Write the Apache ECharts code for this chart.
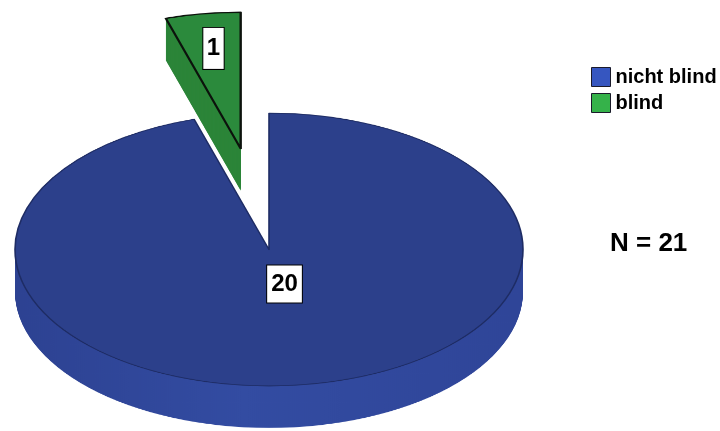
<!DOCTYPE html>
<html>
<head>
<meta charset="utf-8">
<script src="https://cdn.jsdelivr.net/npm/echarts@6/dist/echarts.min.js"></script>
<style>
  html, body { margin: 0; padding: 0; background: #fff; }
  #stage { position: relative; width: 720px; height: 431px; overflow: hidden; background: #fff; }
  #body3d { position: absolute; left: 0; top: 0; width: 720px; transform-origin: 0 0; }
  #overlay { position: absolute; left: 0; top: 0; width: 720px; height: 431px; }
</style>
</head>
<body>
<div id="stage">
  <div id="body3d"></div>
  <div id="overlay"></div>
</div>
<script>
// Groups and counts
const categories = ['nicht blind', 'blind'];
const counts = [20, 1];
const explodedIndex = 1;

// Colours: top faces, side walls, legend swatches
const topColors = ['#2c408b', '#2b8a3c'];
const topBorders = ['#1e2c64', '#0c120c'];
const sideColorsBlue = ['#2d4292', '#334ca2', '#2f4598'];
const sideColorGreen = '#2c8539';
const legendColors = ['#3656c0', '#35b24a'];

const FONT = '"Liberation Sans", Arial, sans-serif';

// Disc geometry (screen pixels); the disc is a round pie squashed vertically
const SQUASH = 0.537;          // minor / major axis
const CX = 269, CY_SCREEN = 249.5, R = 254;
const DEPTH_SCREEN = 42;       // wall height
const EXPLODE = 190;           // slice pull-out, along the flat pie

const CY = CY_SCREEN / SQUASH;
const DEPTH = DEPTH_SCREEN / SQUASH;
const bodyEl = document.getElementById('body3d');
bodyEl.style.height = Math.ceil(431 / SQUASH) + 'px';
bodyEl.style.transform = 'scaleY(' + SQUASH + ')';

function sideFill(i) {
  if (i === 1) return sideColorGreen;
  return new echarts.graphic.LinearGradient(0, 0, 1, 0, [
    { offset: 0, color: sideColorsBlue[0] },
    { offset: 0.45, color: sideColorsBlue[1] },
    { offset: 1, color: sideColorsBlue[2] }
  ]);
}

function pieLayer(dy, isTop) {
  return {
    type: 'pie',
    center: [CX, CY + dy],
    radius: R,
    startAngle: 90,
    clockwise: true,
    selectedMode: 'single',
    selectedOffset: EXPLODE,
    silent: true,
    animation: false,
    avoidLabelOverlap: false,
    label: { show: false },
    labelLine: { show: false },
    emphasis: { disabled: true },
    data: categories.map((name, i) => ({
      name: name,
      value: counts[i],
      selected: i === explodedIndex,
      itemStyle: isTop
        ? { color: topColors[i], borderColor: topBorders[i], borderWidth: i === 1 ? 2.4 : 1.6 }
        : { color: sideFill(i), borderWidth: 0 }
    }))
  };
}

// Wall: stacked copies from the bottom up, then the top face
const bodySeries = [];
const STEP = 1;
for (let d = DEPTH; d > 0; d -= STEP) bodySeries.push(pieLayer(d, false));
bodySeries.push(pieLayer(0, true));

const bodyChart = echarts.init(bodyEl, null, { renderer: 'canvas' });
bodyChart.setOption({ animation: false, series: bodySeries });

// Labels, legend and N on an unsquashed layer
const total = counts.reduce((a, b) => a + b, 0);
const labelOffsets = [[10, -2], [-20, 2]];
const labelPadding = [[5, 4], [7, 3.5]];

function valueLabel(i) {
  return {
    show: true,
    position: 'inside',
    formatter: String(counts[i]),
    offset: labelOffsets[i],
    color: '#000',
    fontFamily: FONT,
    fontSize: 24,
    fontWeight: 'bold',
    lineHeight: 27,
    backgroundColor: '#fff',
    borderColor: '#000',
    borderWidth: 1,
    padding: labelPadding[i]
  };
}

const overlay = echarts.init(document.getElementById('overlay'), null, { renderer: 'canvas' });
overlay.setOption({
  animation: false,
  textStyle: { fontFamily: FONT },
  legend: {
    orient: 'vertical',
    left: 591,
    top: 67,
    padding: 0,
    itemWidth: 19,
    itemHeight: 19,
    itemGap: 6,
    icon: 'rect',
    selectedMode: false,
    textStyle: { fontFamily: FONT, fontSize: 20, fontWeight: 'bold', color: '#000' },
    data: categories.map((name, i) => ({
      name: name,
      itemStyle: { color: legendColors[i], borderColor: '#1a1a2a', borderWidth: 1, opacity: 1 }
    }))
  },
  graphic: [{
    type: 'text',
    x: 610,
    y: 244,
    style: {
      text: 'N = ' + total,
      fill: '#000',
      font: 'bold 26px ' + FONT,
      align: 'left',
      verticalAlign: 'middle'
    }
  }],
  series: [{
    type: 'pie',
    center: [CX, CY_SCREEN],
    radius: [0, 68],
    startAngle: 90,
    clockwise: true,
    selectedMode: 'single',
    selectedOffset: 171,
    silent: true,
    animation: false,
    avoidLabelOverlap: false,
    emphasis: { disabled: true },
    labelLine: { show: false },
    data: categories.map((name, i) => ({
      name: name,
      value: counts[i],
      selected: i === explodedIndex,
      itemStyle: { color: 'rgba(0,0,0,0)', borderWidth: 0 },
      label: valueLabel(i),
      select: { label: valueLabel(i), itemStyle: { color: 'rgba(0,0,0,0)', borderWidth: 0 } }
    }))
  }]
});
</script>
</body>
</html>
